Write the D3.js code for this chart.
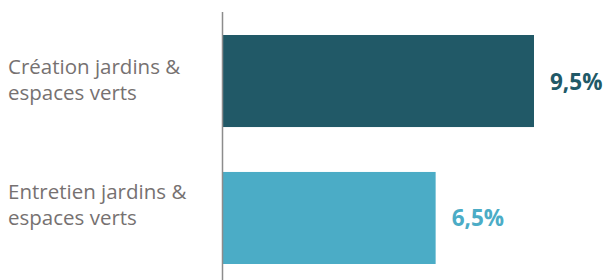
<!DOCTYPE html>
<html><head><meta charset="utf-8">
<script src="https://cdn.jsdelivr.net/npm/d3@7"></script>
<style>html,body{margin:0;padding:0;background:#fff;}</style>
</head><body>
<svg id="c" width="606" height="280"></svg>
<script>
const categories = ["Création jardins & espaces verts", "Entretien jardins & espaces verts"];
const labelLines = [["Création jardins &", "espaces verts"], ["Entretien jardins &", "espaces verts"]];
const values = [9.5, 6.5];
const valueLabels = ["9,5%", "6,5%"];
const colors = ["#215967", "#4BACC6"];

const svg = d3.select("#c");
const x0 = 222.5;
const x = d3.scaleLinear().domain([0, 9.5]).range([x0, 534]);
const y = d3.scaleBand().domain(categories).range([12, 287]).paddingInner(0.328).paddingOuter(0.168);
const labelShift = [-7.5, -19];

svg.selectAll("rect.bar").data(categories).join("rect")
  .attr("class", "bar")
  .attr("x", x(0) + 0.5)
  .attr("y", d => y(d))
  .attr("width", (d, i) => x(values[i]) - x(0) - 0.5)
  .attr("height", y.bandwidth())
  .attr("fill", (d, i) => colors[i]);

svg.append("line")
  .attr("x1", x0).attr("x2", x0)
  .attr("y1", 12).attr("y2", 280)
  .attr("stroke", "#8c8c8c").attr("stroke-width", 1.5);

svg.selectAll("text.val").data(categories).join("text")
  .attr("class", "val")
  .attr("x", (d, i) => x(values[i]) + 16)
  .attr("y", d => y(d) + y.bandwidth() / 2 + 8.5)
  .attr("fill", (d, i) => colors[i])
  .attr("font-family", "'Open Sans', sans-serif")
  .attr("font-weight", "bold")
  .attr("font-size", 22.5)
  .text((d, i) => valueLabels[i]);

const lab = svg.selectAll("text.cat").data(categories).join("text")
  .attr("class", "cat")
  .attr("x", 8)
  .attr("fill", "#767171")
  .attr("font-family", "'Open Sans', sans-serif")
  .attr("font-size", 20.5);
lab.each(function(d, i) {
  const cy = y(d) + y.bandwidth() / 2;
  d3.select(this).selectAll("tspan").data(labelLines[i]).join("tspan")
    .attr("x", 8)
    .attr("y", (t, j) => cy + labelShift[i] + j * 26.5)
    .text(t => t);
});
</script>
</body></html>
